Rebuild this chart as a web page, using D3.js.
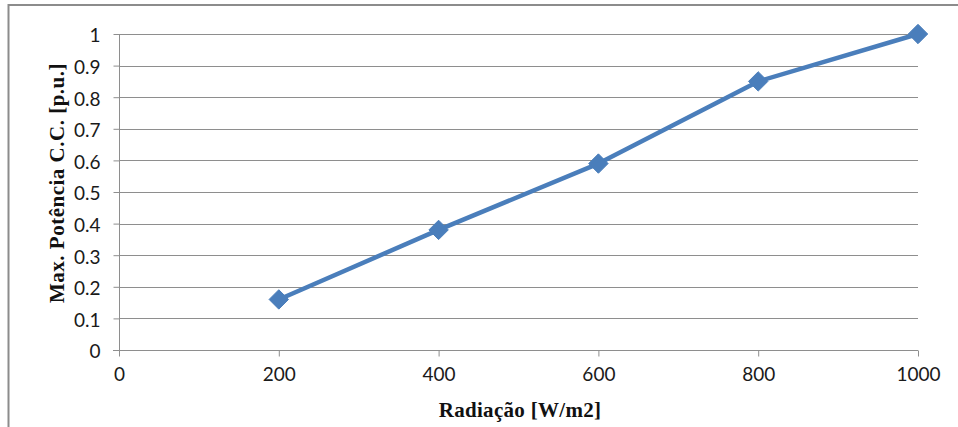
<!DOCTYPE html>
<html>
<head>
<meta charset="utf-8">
<script src="https://cdn.jsdelivr.net/npm/d3@7"></script>
<style>
  html, body { margin: 0; padding: 0; background: #fff; }
  svg { display: block; }
</style>
</head>
<body>
<svg id="chart" width="958" height="427"></svg>
<script>
// Radiation levels (W/m2) and the corresponding max DC power (p.u.)
const radiation = [200, 400, 600, 800, 1000];
const maxPower = [0.16, 0.38, 0.59, 0.85, 1.0];
const xTicks = [0, 200, 400, 600, 800, 1000];
const yTicks = [0, 0.1, 0.2, 0.3, 0.4, 0.5, 0.6, 0.7, 0.8, 0.9, 1];

const svg = d3.select("#chart");
const W = 958, H = 427;
const margin = { left: 119, right: 40, top: 34, bottom: 77 };
const plotW = W - margin.left - margin.right;
const plotH = H - margin.top - margin.bottom;

// Outer chart frame
svg.append("rect")
  .attr("x", 8.5).attr("y", 5)
  .attr("width", 980).attr("height", 440)
  .attr("fill", "#fff")
  .attr("stroke", "#8c8c8c")
  .attr("stroke-width", 2);

const x = d3.scaleLinear().domain([0, 1000]).range([margin.left, margin.left + plotW]);
const y = d3.scaleLinear().domain([0, 1]).range([margin.top + plotH, margin.top]);

const titleFont = "Liberation Serif";
const tickFont = "Lato";
const tickColor = "#1a1a1a";

// Horizontal gridlines
svg.append("g")
  .selectAll("line")
  .data(yTicks.filter(d => d > 0))
  .join("line")
  .attr("x1", x(0)).attr("x2", x(1000))
  .attr("y1", d => Math.round(y(d)) + 0.5)
  .attr("y2", d => Math.round(y(d)) + 0.5)
  .attr("stroke", "#8e8e8e")
  .attr("stroke-width", 1);

// Y axis
const yAxis = svg.append("g")
  .attr("transform", `translate(${x(0) + 0.5},0)`)
  .call(d3.axisLeft(y).tickValues(yTicks).tickSize(6).tickPadding(13)
    .tickFormat(d => String(+d.toFixed(1))));
yAxis.attr("font-family", null);
yAxis.selectAll("path, line").attr("stroke", "#8e8e8e");
yAxis.selectAll("text")
  .attr("font-family", tickFont).attr("font-size", 19).attr("fill", tickColor)
  .attr("dy", "0.42em");
yAxis.select(".domain").attr("d", `M0,${y(0)}V${y(1)}`);

// X axis
const xAxis = svg.append("g")
  .attr("transform", `translate(0,${Math.round(y(0)) + 0.5})`)
  .call(d3.axisBottom(x).tickValues(xTicks).tickSize(6).tickPadding(11)
    .tickFormat(d => String(d)));
xAxis.attr("font-family", null);
xAxis.selectAll("path, line").attr("stroke", "#8e8e8e");
xAxis.select(".domain").attr("d", `M${x(0) - 6},0H${x(1000)}`);
xAxis.selectAll("text")
  .attr("font-family", tickFont).attr("font-size", 19).attr("fill", tickColor);

// Axis titles
svg.append("text")
  .attr("x", 520).attr("y", 417)
  .attr("text-anchor", "middle")
  .attr("font-family", titleFont).attr("font-size", 21).attr("font-weight", "bold")
  .attr("letter-spacing", 0.3)
  .attr("fill", "#111")
  .text("Radiação [W/m2]");

svg.append("text")
  .attr("transform", "translate(64,183) rotate(-90)")
  .attr("text-anchor", "middle")
  .attr("font-family", titleFont).attr("font-size", 21).attr("font-weight", "bold")
  .attr("letter-spacing", 0.5)
  .attr("fill", "#111")
  .text("Max. Potência C.C. [p.u.]");

// Data series line
const pts = radiation.map((r, i) => [r, maxPower[i]]);
svg.append("path")
  .datum(pts)
  .attr("fill", "none")
  .attr("stroke", "#4a7ebb")
  .attr("stroke-width", 4.5)
  .attr("stroke-linejoin", "round")
  .attr("d", d3.line().x(d => x(d[0])).y(d => y(d[1])));

// Diamond markers
svg.append("g")
  .selectAll("path")
  .data(pts)
  .join("path")
  .attr("transform", d => `translate(${x(d[0])},${y(d[1])})`)
  .attr("d", d3.symbol(d3.symbolDiamond2, 240)())
  .attr("fill", "#4a7ebb")
  .attr("stroke", "#4a7ebb")
  .attr("stroke-width", 1);
</script>
</body>
</html>
